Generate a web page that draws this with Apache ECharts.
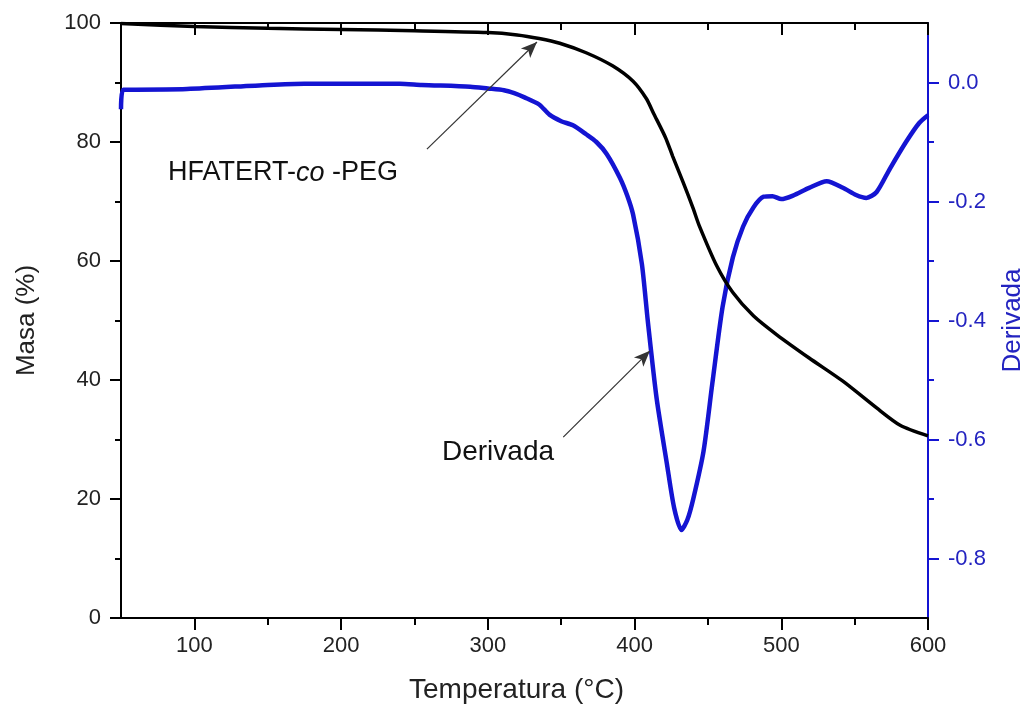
<!DOCTYPE html>
<html>
<head>
<meta charset="utf-8">
<script src="https://cdn.jsdelivr.net/npm/echarts@6/dist/echarts.min.js"></script>
<style>
html,body{margin:0;padding:0;background:#fff;}
#chart{width:1030px;height:716px;}
</style>
</head>
<body>
<div id="chart"></div>
<script>
// Mass (%) curve
const massT = [50, 100, 150, 200, 250, 300, 320, 335, 349, 367, 385, 399, 408, 413, 421, 426, 433, 440, 444, 456, 467, 481, 497, 519, 542, 565, 581, 600];
const massV = [99.9, 99.4, 99.1, 98.9, 98.7, 98.4, 98.0, 97.4, 96.6, 95.0, 92.8, 90.2, 87.3, 84.8, 80.8, 77.6, 73.3, 68.8, 66.0, 59.2, 54.7, 50.8, 47.6, 43.7, 39.8, 35.3, 32.4, 30.6];
// Derivative curve
const derT = [50, 51.5, 60, 95, 150, 175, 210, 240, 255, 288, 300, 311, 318, 325, 335, 342, 350, 358, 367, 374, 381, 390, 395, 399, 405, 409, 415, 422, 427, 432, 436, 440, 447, 453, 460, 467, 474, 481, 488, 494, 500, 508, 519, 531, 542, 551, 558, 565, 574, 585, 594, 600];
const derV = [-0.045, -0.012, -0.012, -0.011, -0.004, -0.002, -0.002, -0.002, -0.004, -0.007, -0.010, -0.013, -0.018, -0.025, -0.037, -0.054, -0.065, -0.072, -0.087, -0.100, -0.120, -0.160, -0.190, -0.222, -0.305, -0.400, -0.530, -0.640, -0.715, -0.752, -0.735, -0.700, -0.620, -0.506, -0.377, -0.294, -0.242, -0.210, -0.192, -0.191, -0.196, -0.190, -0.177, -0.166, -0.177, -0.189, -0.194, -0.184, -0.145, -0.100, -0.068, -0.055];
// Tick settings
const xMin = 50, xMax = 600, xTickStart = 100, xInterval = 100;
const yLeftMin = 0, yLeftMax = 100, yLeftInterval = 20;
const yRightMin = -0.9, yRightMax = 0.1, yRightLabelMin = -0.8, yRightLabelMax = 0.0, yRightInterval = 0.2;
// Annotation arrows (data coordinates on mass axis)
const arrowHFA = [[258.5, 78.8], [333.5, 96.8]];
const arrowDer = [[351.4, 30.4], [410.5, 44.9]];

const BLUE = '#1414d2';
const BLUE_TXT = '#2323c0';
const FONT = '"Liberation Sans", Arial, sans-serif';

const L = 121, R = 102, T = 23, B = 98;
const W = 1030 - L - R, H = 716 - T - B;
const leftShift = L + (xTickStart - xMin) / (xMax - xMin) * W;
const topShift = T + (yRightMax - yRightLabelMax) / (yRightMax - yRightMin) * H;
const botShift = B + (yRightLabelMin - yRightMin) / (yRightMax - yRightMin) * H;

const chart = echarts.init(document.getElementById('chart'), null, {renderer: 'canvas'});
const noAxis = {show: false};
const blackLine = {show: true, onZero: false, lineStyle: {color: '#000', width: 2}};
const option = {
  backgroundColor: '#fff',
  animation: false,
  grid: [
    {left: L, right: R, top: T, bottom: B},
    {left: leftShift, right: R, top: T, bottom: B},
    {left: L, right: R, top: topShift, bottom: botShift}
  ],
  xAxis: [
    {gridIndex: 0, type: 'value', position: 'bottom', min: xMin, max: xMax,
     axisLine: blackLine, axisTick: noAxis, axisLabel: noAxis, splitLine: noAxis},
    {gridIndex: 0, type: 'value', position: 'top', min: xMin, max: xMax,
     axisLine: blackLine, axisTick: noAxis, axisLabel: noAxis, splitLine: noAxis},
    {gridIndex: 1, type: 'value', position: 'bottom', min: xTickStart, max: xMax, interval: xInterval,
     axisLine: {show: false, onZero: false}, splitLine: noAxis,
     axisTick: {show: true, length: 12, lineStyle: {color: '#000', width: 2}},
     minorTick: {show: true, splitNumber: 2, length: 7, lineStyle: {color: '#000', width: 2}},
     axisLabel: {show: true, fontSize: 22, fontFamily: FONT, color: '#222', margin: 17}},
    {gridIndex: 1, type: 'value', position: 'top', min: xTickStart, max: xMax, interval: xInterval,
     axisLine: {show: false, onZero: false}, splitLine: noAxis,
     axisTick: {show: true, inside: true, length: 12, lineStyle: {color: '#000', width: 2}},
     minorTick: {show: true, splitNumber: 2, length: 7, lineStyle: {color: '#000', width: 2}},
     axisLabel: noAxis},
    {gridIndex: 2, type: 'value', show: false, min: xMin, max: xMax,
     axisLine: {show: false, onZero: false}, axisTick: noAxis, axisLabel: noAxis, splitLine: noAxis}
  ],
  yAxis: [
    {gridIndex: 0, type: 'value', position: 'left', min: yLeftMin, max: yLeftMax, interval: yLeftInterval,
     axisLine: blackLine, splitLine: noAxis,
     axisTick: {show: true, length: 11, lineStyle: {color: '#000', width: 2}},
     minorTick: {show: true, splitNumber: 2, length: 6, lineStyle: {color: '#000', width: 2}},
     axisLabel: {fontSize: 22, fontFamily: FONT, color: '#222', margin: 20}},
    {gridIndex: 0, type: 'value', position: 'right', min: yRightMin, max: yRightMax,
     axisLine: {show: true, onZero: false, lineStyle: {color: BLUE, width: 2}}, axisTick: noAxis, axisLabel: noAxis, splitLine: noAxis},
    {gridIndex: 1, type: 'value', show: false, min: 0, max: 1,
     axisLine: {show: false, onZero: false}, axisTick: noAxis, axisLabel: noAxis, splitLine: noAxis},
    {gridIndex: 2, type: 'value', position: 'right', min: yRightLabelMin, max: yRightLabelMax, interval: yRightInterval,
     axisLine: {show: false, onZero: false}, splitLine: noAxis,
     axisTick: {show: true, length: 11, lineStyle: {color: BLUE, width: 2}},
     minorTick: {show: true, splitNumber: 2, length: 6, lineStyle: {color: BLUE, width: 2}},
     axisLabel: {fontSize: 22, fontFamily: FONT, color: BLUE_TXT, margin: 20,
       formatter: v => (Math.abs(v) < 1e-9 ? 0 : v).toFixed(1)}}
  ],
  series: [
    {name: 'Derivada', type: 'line', xAxisIndex: 0, yAxisIndex: 1, showSymbol: false, smooth: 0.25,
     data: derT.map((t, i) => [t, derV[i]]),
     lineStyle: {color: BLUE, width: 4.5}, z: 3},
    {name: 'Masa', type: 'line', xAxisIndex: 0, yAxisIndex: 0, showSymbol: false, smooth: 0.25,
     data: massT.map((t, i) => [t, massV[i]]),
     lineStyle: {color: '#000', width: 3.5}, z: 4,
     markLine: {silent: true, symbol: ['none', 'arrow'], symbolSize: [10, 16],
       label: {show: false}, lineStyle: {color: '#333', width: 1.2, type: 'solid'},
       data: [
         [{coord: arrowHFA[0]}, {coord: arrowHFA[1]}],
         [{coord: arrowDer[0]}, {coord: arrowDer[1]}]
       ]}}
  ],
  graphic: [
    {type: 'text', x: 168, y: 173, style: {
      text: '{n|HFATERT-}{i|co}{n| -PEG}', textVerticalAlign: 'middle',
      rich: {n: {fontSize: 27, fontFamily: FONT, fill: '#111'}, i: {fontSize: 27, fontFamily: FONT, fontStyle: 'italic', fill: '#111'}}}},
    {type: 'text', x: 442, y: 452, style: {text: 'Derivada', font: '28px ' + FONT, fill: '#111', textVerticalAlign: 'middle'}},
    {type: 'text', x: L + W / 2 - 8, y: 690, style: {text: 'Temperatura (°C)', font: '28px ' + FONT, fill: '#222', textAlign: 'center', textVerticalAlign: 'middle'}},
    {type: 'text', x: 27, y: T + H / 2, rotation: Math.PI / 2, style: {text: 'Masa (%)', font: '26px ' + FONT, fill: '#222', textAlign: 'center', textVerticalAlign: 'middle'}},
    {type: 'text', x: 1013, y: T + H / 2, rotation: Math.PI / 2, style: {text: 'Derivada', font: '26px ' + FONT, fill: BLUE_TXT, textAlign: 'center', textVerticalAlign: 'middle'}}
  ]
};
chart.setOption(option);
</script>
</body>
</html>
